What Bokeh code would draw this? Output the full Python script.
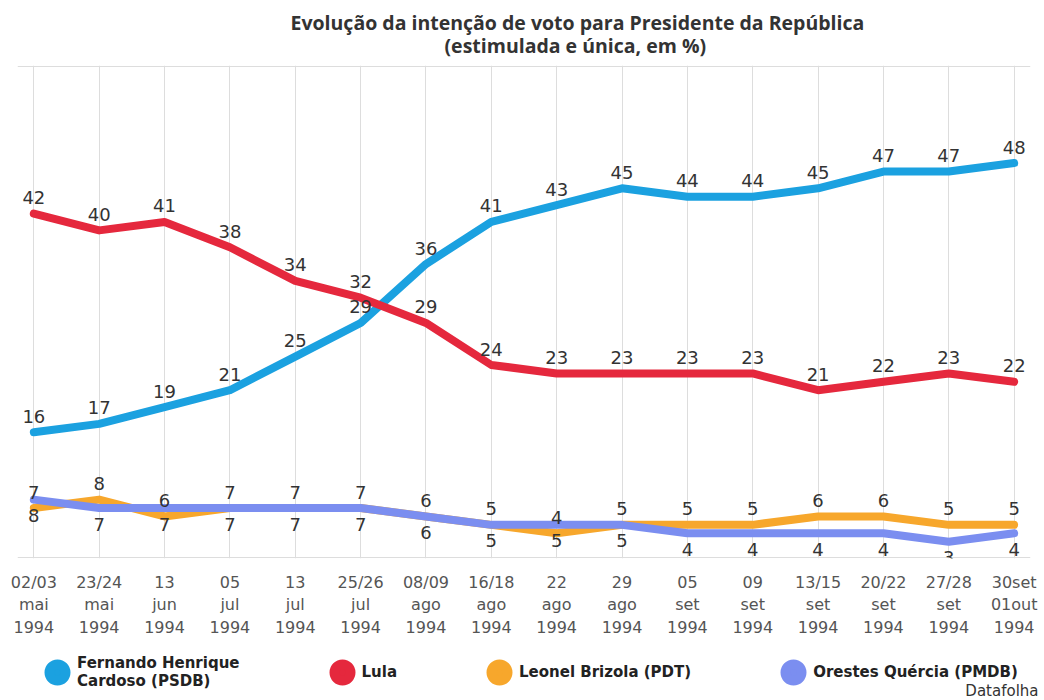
from bokeh.plotting import figure
from bokeh.layouts import column
from bokeh.models import (ColumnDataSource, Range1d, FixedTicker, LabelSet,
                          Legend, LegendItem, Label, Title)
from bokeh.core.properties import value
from bokeh.embed import file_html
from bokeh.resources import INLINE

dates = ["02/03\nmai\n1994", "23/24\nmai\n1994", "13\njun\n1994", "05\njul\n1994",
         "13\njul\n1994", "25/26\njul\n1994", "08/09\nago\n1994", "16/18\nago\n1994",
         "22\nago\n1994", "29\nago\n1994", "05\nset\n1994", "09\nset\n1994",
         "13/15\nset\n1994", "20/22\nset\n1994", "27/28\nset\n1994", "30set\n01out\n1994"]
fhc = [16, 17, 19, 21, 25, 29, 36, 41, 43, 45, 44, 44, 45, 47, 47, 48]
lula = [42, 40, 41, 38, 34, 32, 29, 24, 23, 23, 23, 23, 21, 22, 23, 22]
brizola = [7, 8, 6, 7, 7, 7, 6, 5, 4, 5, 5, 5, 6, 6, 5, 5]
quercia = [8, 7, 7, 7, 7, 7, 6, 5, 5, 5, 4, 4, 4, 4, 3, 4]

names = ["Fernando Henrique\nCardoso (PSDB)", "Lula", "Leonel Brizola (PDT)", "Orestes Quércia (PMDB)"]
title1 = "Evolução da intenção de voto para Presidente da República"
title2 = "(estimulada e única, em %)"
source_note = "Datafolha"

C_FHC = "#1ba1e0"
C_LULA = "#e5283d"
C_BRIZ = "#f7a72c"
C_QUER = "#7b8ef0"
GRID = "#dddddd"

x = list(range(len(dates)))
src = ColumnDataSource(dict(
    x=x, fhc=fhc, lula=lula, brizola=brizola, quercia=quercia,
    fhc_t=[str(v) for v in fhc], lula_t=[str(v) for v in lula],
    brizola_t=[str(v) for v in brizola], quercia_t=[str(v) for v in quercia],
))

PAD = 0.25
LEFT = 17
p = figure(width=1044, height=640, x_range=Range1d(-PAD, len(dates) - 1 + PAD),
           y_range=Range1d(1.0, 59.6), output_backend="svg", toolbar_location=None,
           min_border_left=LEFT, min_border_right=14, min_border_top=65, min_border_bottom=79)
p.outline_line_color = None

# titles (two lines, each centred around x ~ 576)
p.title.text = title1
p.title.align = "left"
p.title.offset = 273
p.title.vertical_align = "middle"
p.title.text_font = "Open Sans"
p.title.text_font_style = "bold"
p.title.text_font_size = "19.5px"
p.title.text_color = "#333333"
p.title.standoff = -24
t2 = Title(text=title2, align="left", offset=427, vertical_align="middle",
           text_font="Open Sans", text_font_style="bold",
           text_font_size="19.5px", text_color="#333333", standoff=12)
p.add_layout(t2, "above")

p.yaxis.visible = False
p.ygrid.ticker = FixedTicker(ticks=[1.1, 59.5])
p.ygrid.grid_line_color = GRID
p.xgrid.grid_line_color = GRID

ax = p.xaxis[0]
ax.ticker = FixedTicker(ticks=x)
ax.major_label_overrides = {i: d for i, d in zip(x, dates)}
ax.axis_line_color = None
ax.major_tick_line_color = None
ax.minor_tick_line_color = None
ax.major_label_text_font = "DejaVu Sans"
ax.major_label_text_font_size = "16px"
ax.major_label_text_color = "#555555"
ax.major_label_standoff = 8
ax.major_label_text_line_height = 1.2

lw = 8
p.line("x", "brizola", source=src, line_width=lw, line_color=C_BRIZ, line_join="round", line_cap="round")
p.line("x", "quercia", source=src, line_width=lw, line_color=C_QUER, line_join="round", line_cap="round")
p.line("x", "fhc", source=src, line_width=lw, line_color=C_FHC, line_join="round", line_cap="round")
p.line("x", "lula", source=src, line_width=lw, line_color=C_LULA, line_join="round", line_cap="round")


def labels(col, off):
    return LabelSet(x="x", y=col, text=col + "_t", source=src, text_align="center",
                    text_baseline="middle", y_offset=off, text_font=value("DejaVu Sans"),
                    text_font_size="18px", text_color="#333333")


p.add_layout(labels("fhc", 16))
p.add_layout(labels("lula", 16))
p.add_layout(labels("brizola", 16))
p.add_layout(labels("quercia", -16))

# legend strip (separate figure so the legend is not clipped by the main frame)
lf = figure(width=1044, height=60, x_range=Range1d(0, 1), y_range=Range1d(0, 1),
            output_backend="svg", toolbar_location=None,
            min_border_left=0, min_border_right=0, min_border_top=0, min_border_bottom=0)
lf.axis.visible = False
lf.grid.visible = False
lf.outline_line_color = None
shift = 0
if "frame_align" in lf.properties():
    lf.frame_align = False
else:
    shift = LEFT

mk = []
for col, c in [("fhc", C_FHC), ("lula", C_LULA), ("brizola", C_BRIZ), ("quercia", C_QUER)]:
    mk.append(lf.scatter("x", col, source=src, size=0, fill_color=c, line_color=c,
                         line_width=10, marker="circle"))

legend = Legend(items=[LegendItem(label=n, renderers=[r]) for n, r in zip(names, mk)],
                orientation="horizontal", location=(37 - shift, 8),
                glyph_width=40, glyph_height=40, label_standoff=0, spacing=82,
                padding=0, margin=0, border_line_color=None, background_fill_alpha=0,
                label_text_font="DejaVu Sans", label_text_font_style="bold",
                label_text_font_size="15px", label_text_color="#222222",
                label_text_baseline="middle", label_text_line_height=1.6)
lf.add_layout(legend, "center")

lf.add_layout(Label(x=1038 - shift, y=10, x_units="screen", y_units="screen", text=source_note,
                    text_align="right", text_baseline="middle", text_font="DejaVu Sans",
                    text_font_size="15px", text_color="#333333"))

page = column(p, lf, spacing=0)
open("out.html", "w").write(file_html(page, INLINE))
